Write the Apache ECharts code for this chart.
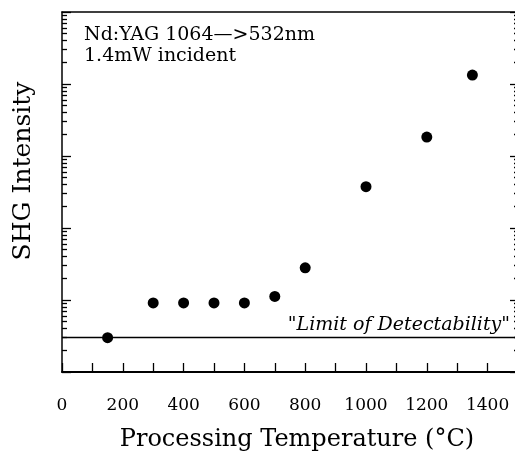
<!DOCTYPE html>
<html><head><meta charset="utf-8">
<script src="https://cdn.jsdelivr.net/npm/echarts@6/dist/echarts.min.js"></script>
<style>html,body{margin:0;padding:0;background:#fff}#c{width:515px;height:451px}</style>
</head><body><div id="c"></div>
<script>
var temperatures = [150, 300, 400, 500, 600, 700, 800, 1000, 1200, 1350];
var shgIntensity = [3, 9.1, 9.1, 9.1, 9.1, 11.2, 28, 375, 1830, 13300];
var detectionLimit = 3;
var xTickValues = [0, 200, 400, 600, 800, 1000, 1200, 1400];
var decadeTicks = [1, 10, 100, 1000, 10000, 100000];
var minorTicks = [];
for (var d = 1; d < 100000; d *= 10) { for (var m = 2; m <= 9; m++) minorTicks.push(m * d); }

var FONT = 'DejaVu Serif';
var chart = echarts.init(document.getElementById('c'), null, {renderer: 'canvas'});
var pts = temperatures.map(function (t, i) { return [t, shgIntensity[i]]; });

function yAx(pos, ticks, len, showLine) {
  return {
    type: 'log', logBase: 10, min: 1, max: 100000, position: pos,
    axisLine: {show: showLine, lineStyle: {color: '#000', width: 1.5}},
    axisTick: {show: true, inside: true, length: len, customValues: ticks, lineStyle: {color: '#000', width: 1.3}},
    axisLabel: {show: false}, splitLine: {show: false}
  };
}

chart.setOption({
  animation: false,
  grid: {left: 62, top: 12, width: 456, height: 360, containLabel: false, outerBoundsMode: 'none'},
  xAxis: [{
    type: 'value', min: 0, max: 1500, interval: 100, position: 'bottom',
    axisLine: {show: true, lineStyle: {color: '#000', width: 2}},
    axisTick: {show: true, inside: true, length: 9, lineStyle: {color: '#000', width: 1.3}},
    axisLabel: {show: true, margin: 25, fontFamily: FONT, fontSize: 17, color: '#000',
      formatter: function (v) { return xTickValues.indexOf(v) >= 0 ? String(v) : ''; }},
    splitLine: {show: false}
  }, {
    type: 'value', min: 0, max: 1500, position: 'top',
    axisLine: {show: true, lineStyle: {color: '#000', width: 1.5}},
    axisTick: {show: false}, axisLabel: {show: false}, splitLine: {show: false}
  }],
  yAxis: [
    yAx('left', decadeTicks, 9, true),
    yAx('left', minorTicks, 5, false),
    yAx('right', decadeTicks, 8, true),
    yAx('right', minorTicks, 4, false)
  ],
  series: [{
    type: 'scatter', data: pts, symbol: 'circle', symbolSize: 11,
    itemStyle: {color: '#000', opacity: 1},
    markLine: {
      silent: true, symbol: ['none', 'none'],
      lineStyle: {color: '#000', width: 1.3, type: 'solid'},
      data: [{yAxis: detectionLimit}],
      label: {show: true, position: 'insideEndTop', distance: [8, 3],
        formatter: '"Limit of Detectability"',
        fontFamily: FONT, fontStyle: 'italic', fontSize: 19, color: '#000'}
    }
  }],
  graphic: [{
    type: 'text', left: 84, top: 25,
    style: {text: 'Nd:YAG 1064—>532nm\n1.4mW incident', fontFamily: FONT, fontSize: 19, lineHeight: 21, fill: '#000'}
  }, {
    type: 'text', x: 297, y: 440,
    style: {text: 'Processing Temperature (°C)', fontFamily: FONT, fontSize: 24, fill: '#000', align: 'center', verticalAlign: 'middle'}
  }, {
    type: 'text', x: 23, y: 171, rotation: Math.PI / 2,
    style: {text: 'SHG Intensity', fontFamily: FONT, fontSize: 25, fill: '#000', align: 'center', verticalAlign: 'middle'}
  }]
});
</script></body></html>
